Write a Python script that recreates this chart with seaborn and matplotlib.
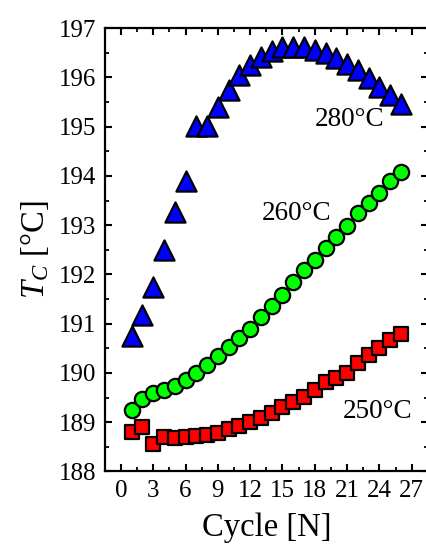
import matplotlib
matplotlib.use("Agg")
import matplotlib.pyplot as plt
import seaborn as sns
import numpy as np
from matplotlib.ticker import MultipleLocator

cycles = list(range(1, 27))
t250 = [188.80, 188.90, 188.56, 188.70, 188.68, 188.70, 188.73, 188.75, 188.79, 188.87,
        188.93, 189.00, 189.09, 189.18, 189.31, 189.41, 189.51, 189.65, 189.81, 189.90,
        190.00, 190.20, 190.37, 190.51, 190.66, 190.80]
t260 = [189.24, 189.48, 189.59, 189.66, 189.73, 189.85, 190.00, 190.17, 190.34, 190.53,
        190.72, 190.90, 191.14, 191.36, 191.59, 191.85, 192.09, 192.30, 192.54, 192.76,
        192.99, 193.24, 193.46, 193.66, 193.90, 194.07]
t280 = [190.76, 191.17, 191.74, 192.49, 193.27, 193.89, 195.01, 195.01, 195.40, 195.74,
        196.05, 196.25, 196.42, 196.53, 196.62, 196.62, 196.62, 196.56, 196.50, 196.39,
        196.27, 196.15, 195.98, 195.81, 195.65, 195.47]
labels = ["250°C", "260°C", "280°C"]
xticks = [0, 3, 6, 9, 12, 15, 18, 21, 24, 27]
yticks = [188, 189, 190, 191, 192, 193, 194, 195, 196, 197]

sns.set_theme(style="ticks")
plt.rcParams['font.family'] = ['Liberation Serif', 'DejaVu Serif']
plt.rcParams['mathtext.fontset'] = 'custom'
plt.rcParams['mathtext.rm'] = 'Liberation Serif'
plt.rcParams['mathtext.it'] = 'Liberation Serif:italic'
for k in ['text.color', 'axes.labelcolor', 'xtick.color', 'ytick.color', 'axes.edgecolor']:
    plt.rcParams[k] = 'black'

fig = plt.figure(figsize=(4.27, 5.48), dpi=100)
ax = fig.add_axes([0.2454, 0.1396, 0.7567, 0.809])

sns.scatterplot(x=cycles, y=t280, marker='^', s=14.5**2, color='#0000FF',
                edgecolor='black', linewidth=1.6, ax=ax, zorder=3)
sns.scatterplot(x=cycles, y=t260, marker='o', s=11.0**2, color='#00FF00',
                edgecolor='black', linewidth=1.6, ax=ax, zorder=3)
sns.scatterplot(x=cycles, y=t250, marker='s', s=9.8**2, color='#FF0000',
                edgecolor='black', linewidth=1.6, ax=ax, zorder=3)

ax.text(18.0, 195.01, labels[2], fontsize=19.5, ha='left', va='baseline')
ax.text(13.1, 193.10, labels[1], fontsize=19.5, ha='left', va='baseline')
ax.text(20.6, 189.08, labels[0], fontsize=19.5, ha='left', va='baseline')

ax.set_xlim(-1.5, 28.5)
ax.set_ylim(188, 197)
ax.set_xticks(xticks)
ax.set_yticks(yticks)
ax.set_xticklabels([str(v) for v in xticks])
ax.set_yticklabels([str(v) for v in yticks])
ax.xaxis.set_minor_locator(MultipleLocator(1.5))
ax.yaxis.set_minor_locator(MultipleLocator(0.5))
ax.tick_params(which='both', direction='in', top=True, right=True,
               labelsize=18, colors='black', pad=6)
ax.tick_params(which='major', length=5, width=1.5)
ax.tick_params(which='minor', length=3, width=1.3)
for sp in ax.spines.values():
    sp.set_visible(True)
    sp.set_linewidth(1.6)
    sp.set_color('black')

ax.set_xlabel("Cycle [N]", fontsize=23.5, labelpad=8)
ax.set_ylabel(r"$T_C$ [°C]", fontsize=23.5, labelpad=6)
ax.grid(False)
ax.set_facecolor('white')

fig.savefig("out.png", dpi=100)
